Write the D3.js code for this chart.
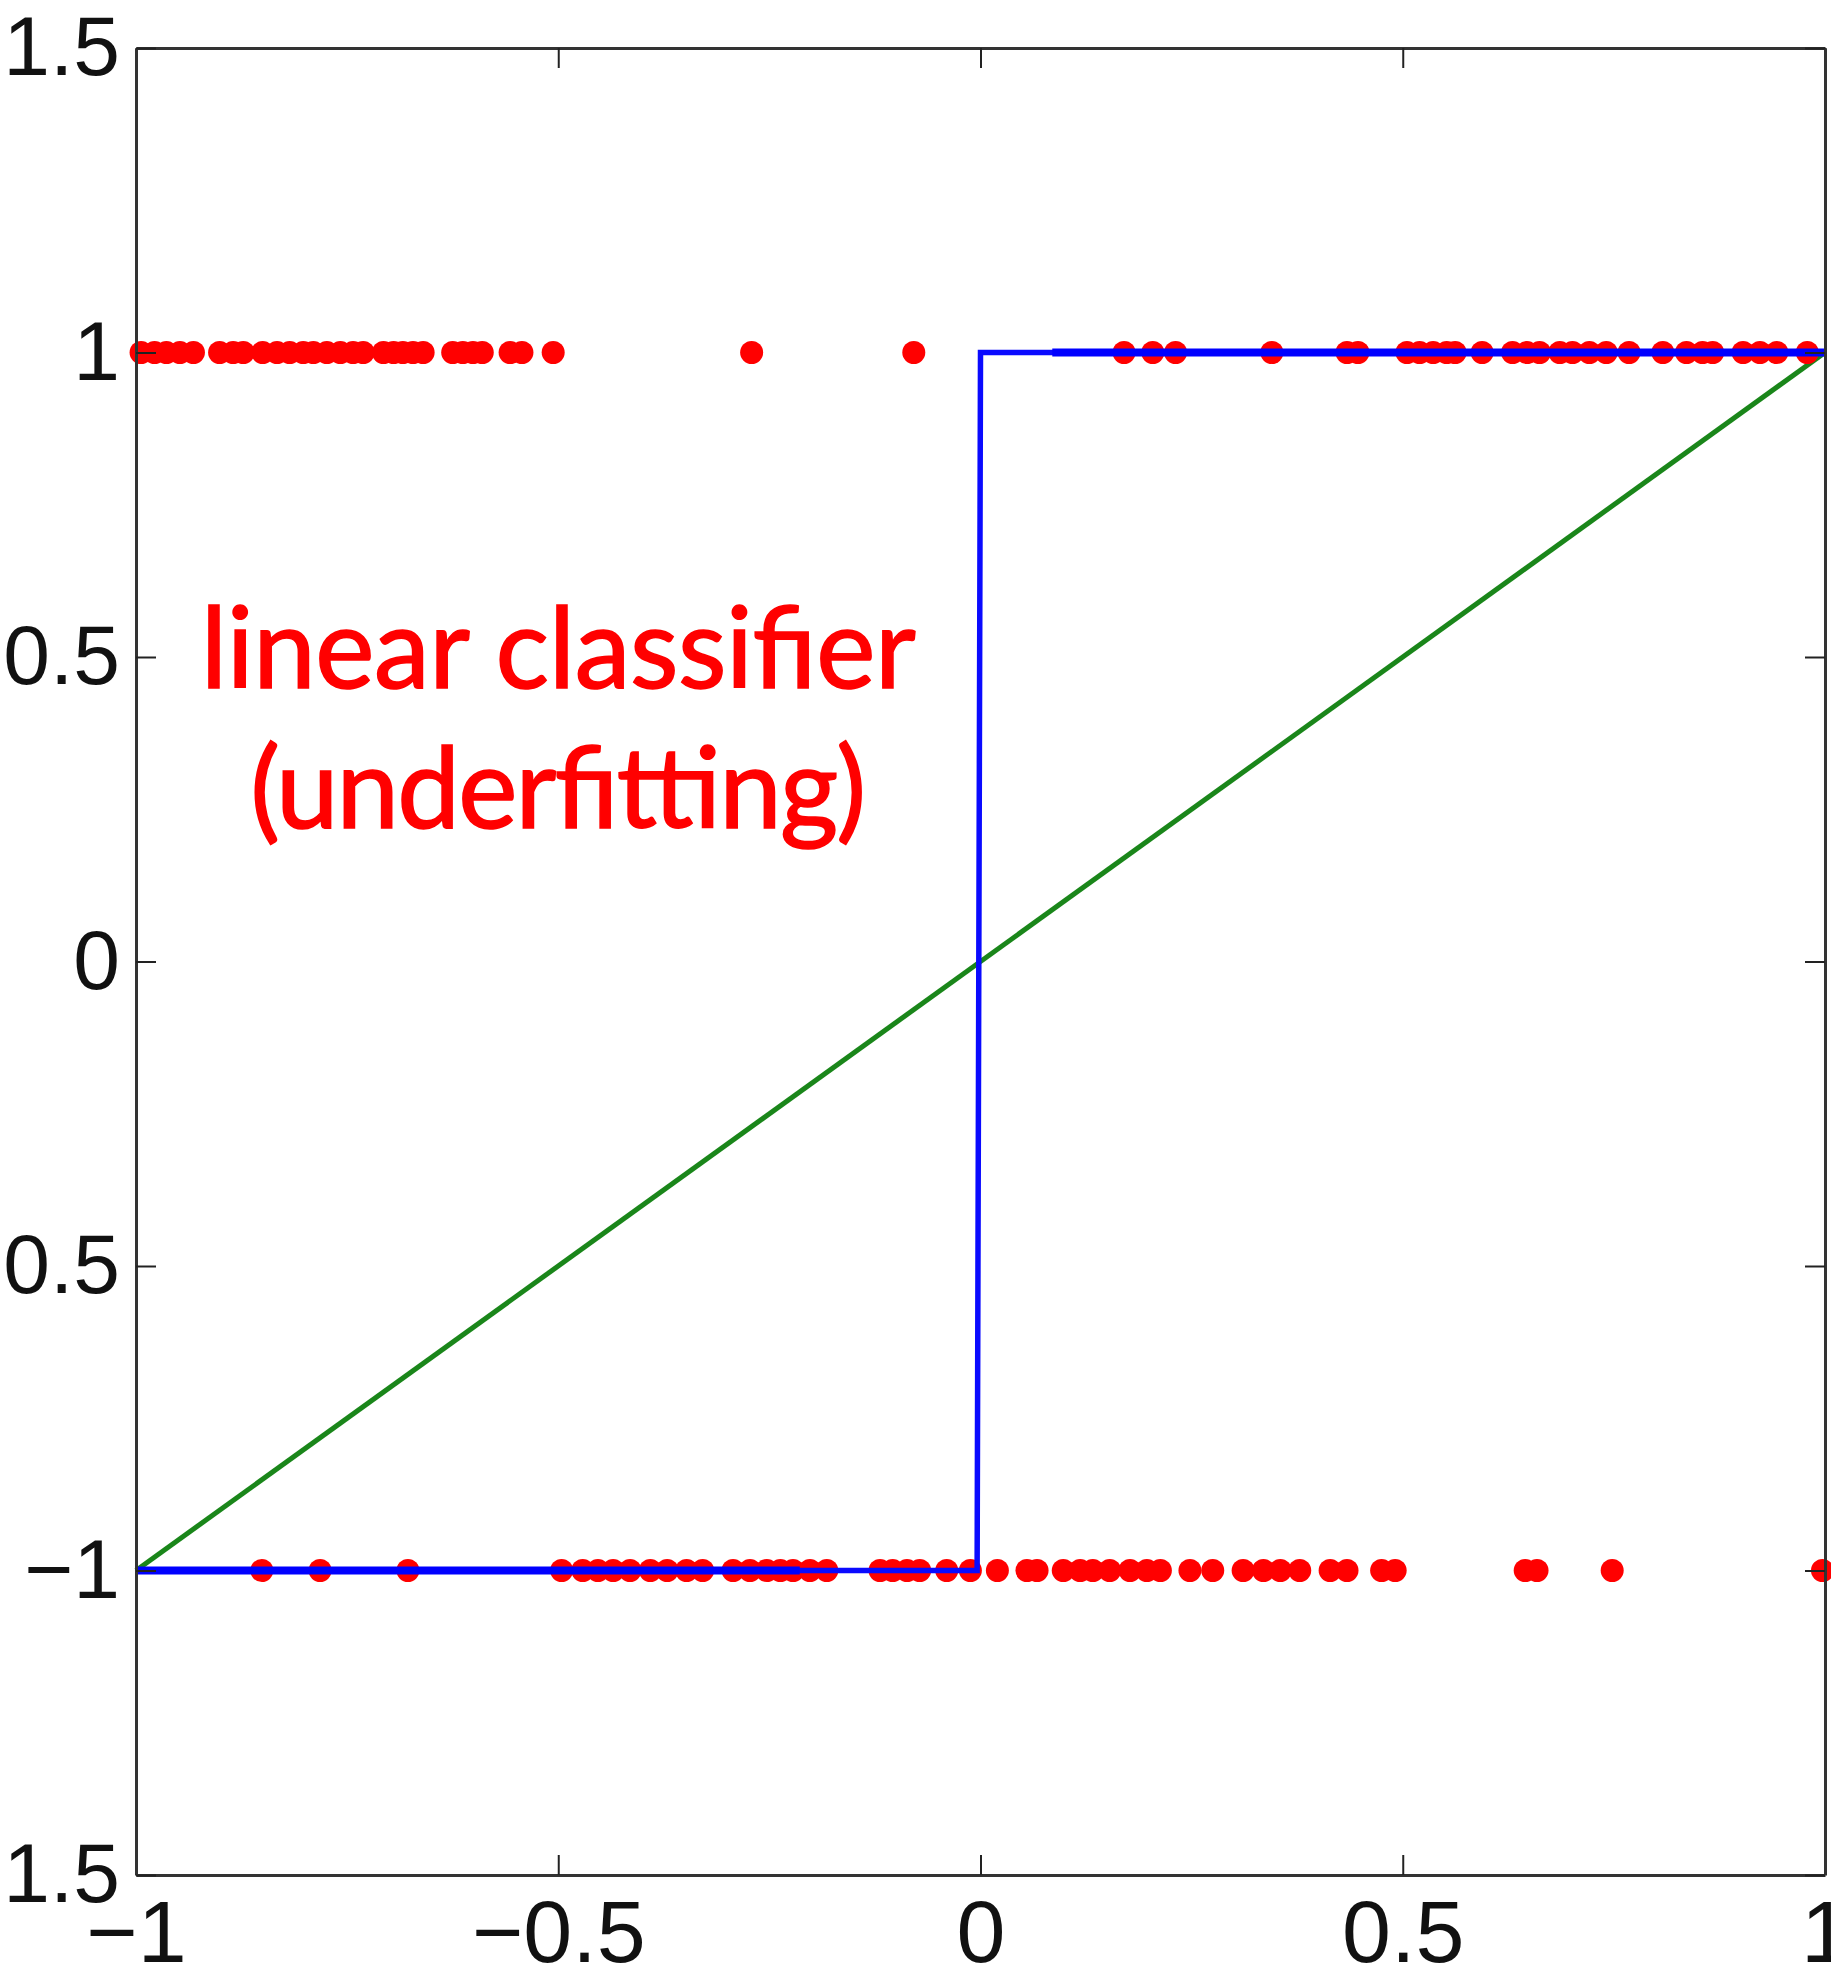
<!DOCTYPE html>
<html>
<head>
<meta charset="utf-8">
<script src="https://cdn.jsdelivr.net/npm/d3@7"></script>
<style>
  body { margin: 0; background: #fff; }
  svg { display: block; }
  .axis text { font-family: "Liberation Sans", Arial, sans-serif; fill: #111; }
  .axis .domain { stroke: #333; stroke-width: 3; }
  .axis .tick line { stroke: #222; stroke-width: 2; }
</style>
</head>
<body>
<svg id="chart" width="1831" height="1967"></svg>
<script>
// tick values + labels
const xTicks = [-1, -0.5, 0, 0.5, 1];
const xTickLabels = ["\u22121", "\u22120.5", "0", "0.5", "1"];
const yTicks = [1.5, 1, 0.5, 0, -0.5, -1, -1.5];
const yTickLabels = ["1.5", "1", "0.5", "0", "\u22120.5", "\u22121", "\u22121.5"];

// red samples, class +1
const posX = [-0.994, -0.978, -0.964, -0.948, -0.932, -0.901, -0.885, -0.873, -0.850, -0.833,
  -0.818, -0.802, -0.790, -0.774, -0.758, -0.743, -0.731, -0.707, -0.695, -0.684,
  -0.672, -0.660, -0.625, -0.613, -0.601, -0.590, -0.557, -0.543, -0.506,
  -0.271, -0.079,
  0.170, 0.204, 0.231, 0.345, 0.434, 0.447, 0.505, 0.520, 0.536, 0.552, 0.562, 0.594,
  0.630, 0.647, 0.662, 0.686, 0.701, 0.721, 0.741, 0.768, 0.808, 0.836, 0.855, 0.867,
  0.903, 0.923, 0.943, 0.979];

// red samples, class -1
const negX = [-0.851, -0.782, -0.678, -0.496, -0.471, -0.453, -0.435, -0.415, -0.391, -0.371,
  -0.348, -0.329, -0.293, -0.273, -0.253, -0.237, -0.222, -0.202, -0.182, -0.119,
  -0.104, -0.087, -0.072, -0.040, -0.012, 0.020, 0.055, 0.067, 0.098, 0.118,
  0.133, 0.153, 0.177, 0.197, 0.213, 0.248, 0.275, 0.311, 0.335, 0.355,
  0.378, 0.414, 0.434, 0.475, 0.491, 0.645, 0.659, 0.748, 0.997];

// green linear fit
const linearFit = [[-1, -1], [1, 1]];
// blue step (thin) and its heavier stretches
const stepFit = [[-1, -1], [-0.004, -1], [0, 1], [1, 1]];
const stepHeavyLow = [[-1, -1], [-0.214, -1]];
const stepHeavyHigh = [[0.085, 1], [1, 1]];

const noteLines = ["linear classifier", "(underfitting)"];
const noteX = -0.5;
const noteY = [0.449, 0.219];

const svg = d3.select("#chart");

const x = d3.scaleLinear().domain([-1, 1]).range([136, 1825]);
const y = d3.scaleLinear().domain([-1.5, 1.5]).range([1875, 48]);

const line = d3.line().x(d => x(d[0])).y(d => y(d[1]));

// green
svg.append("path")
    .datum(linearFit)
    .attr("d", line)
    .attr("fill", "none")
    .attr("stroke", "#1a861a")
    .attr("stroke-width", 5);

// dots
const dots = svg.append("g").attr("fill", "#ff0000");
dots.selectAll(".pos").data(posX).enter().append("circle")
    .attr("class", "pos")
    .attr("cx", d => x(d)).attr("cy", y(1)).attr("r", 11.5);
dots.selectAll(".neg").data(negX).enter().append("circle")
    .attr("class", "neg")
    .attr("cx", d => x(d)).attr("cy", y(-1)).attr("r", 11.5);

// blue
svg.append("path")
    .datum(stepFit)
    .attr("d", line)
    .attr("fill", "none")
    .attr("stroke", "#0a0aff")
    .attr("stroke-width", 5.5);

[stepHeavyLow, stepHeavyHigh].forEach(seg => {
    svg.append("path")
        .datum(seg)
        .attr("d", line)
        .attr("fill", "none")
        .attr("stroke", "#0000ff")
        .attr("stroke-width", 8);
});

// axes (matlab style box, ticks inward)
svg.append("g").attr("class", "axis")
    .attr("transform", `translate(0,${y(-1.5)})`)
    .call(d3.axisBottom(x).tickValues(xTicks).tickFormat((d, i) => xTickLabels[i])
        .tickSizeInner(-20).tickSizeOuter(0).tickPadding(25))
    .call(g => g.selectAll("text").attr("font-size", 88));

svg.append("g").attr("class", "axis")
    .attr("transform", `translate(0,${y(1.5)})`)
    .call(d3.axisTop(x).tickValues(xTicks).tickFormat("")
        .tickSizeInner(-20).tickSizeOuter(0));

svg.append("g").attr("class", "axis")
    .attr("transform", `translate(${x(-1)},0)`)
    .call(d3.axisLeft(y).tickValues(yTicks).tickFormat((d, i) => yTickLabels[i])
        .tickSizeInner(-20).tickSizeOuter(0).tickPadding(16))
    .call(g => g.selectAll("text").attr("font-size", 84));

svg.append("g").attr("class", "axis")
    .attr("transform", `translate(${x(1)},0)`)
    .call(d3.axisRight(y).tickValues(yTicks).tickFormat("")
        .tickSizeInner(-20).tickSizeOuter(0));

// annotation
const widths = [715, 616];
svg.selectAll(".note").data(noteLines).enter().append("text")
    .attr("class", "note")
    .attr("x", x(noteX))
    .attr("y", (d, i) => y(noteY[i]))
    .attr("text-anchor", "middle")
    .attr("textLength", (d, i) => widths[i])
    .attr("font-family", "Lato, 'Noto Sans', sans-serif")
    .attr("font-size", 112)
    .attr("fill", "#ff0000")
    .attr("stroke", "#ff0000")
    .attr("stroke-width", 1.6)
    .text(d => d);
</script>
</body>
</html>
